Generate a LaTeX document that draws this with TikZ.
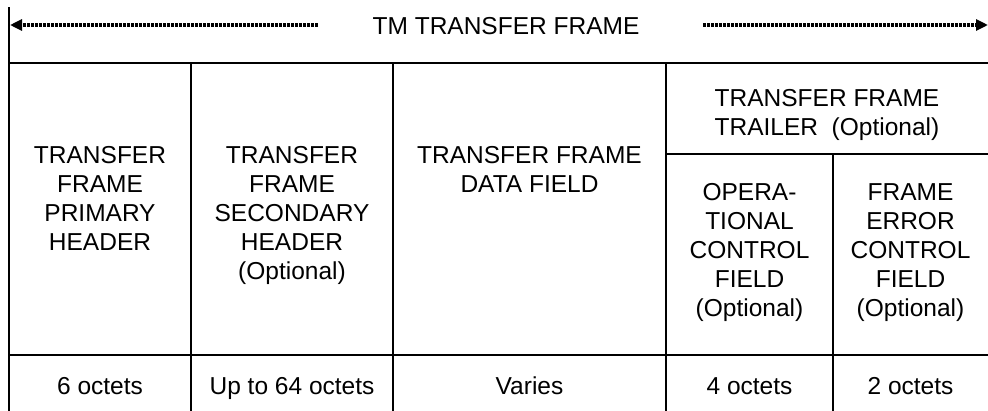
\documentclass[tikz,border=0pt]{standalone}
\usepackage{fontspec}
\setmainfont{Liberation Sans}
\usetikzlibrary{arrows.meta}
\tikzset{
  rule/.style={line width=2pt, line cap=rect},
  dotarrow/.style={line width=3.2pt, dash pattern=on 2.8pt off 1.2pt, -{Triangle[length=12pt,width=11pt]}},
  lbl/.style={anchor=base, align=center, inner sep=0pt, font=\fontsize{24.5}{29}\selectfont},
  top/.style={lbl, anchor=north},
}
\begin{document}
\begin{tikzpicture}[x=1pt,y=-1pt]
\useasboundingbox (0,0) rectangle (988,410);
% frame lines
\coordinate (tl) at (9,8);
\coordinate (h1l) at (9,62.5);
\coordinate (h1r) at (990,62.5);
\coordinate (h2l) at (9,355);
\coordinate (h2r) at (990,355);
\coordinate (v1t) at (191,62.5);   \coordinate (v1b) at (191,412);
\coordinate (v2t) at (393,62.5);   \coordinate (v2b) at (393,412);
\coordinate (v3t) at (666,62.5);   \coordinate (v3b) at (666,412);
\coordinate (v4t) at (833,154);    \coordinate (v4b) at (833,412);
\coordinate (trl) at (666,154);    \coordinate (trr) at (990,154);
\draw[rule] (tl) -- (9,412);
\draw[rule] (h1l) -- (h1r);
\draw[rule] (h2l) -- (h2r);
\draw[rule] (v1t) -- (v1b);
\draw[rule] (v2t) -- (v2b);
\draw[rule] (v3t) -- (v3b);
\draw[rule] (v4t) -- (v4b);
\draw[rule] (trl) -- (trr);
% title and arrows
\node[lbl] (title) at (506,34) {TM TRANSFER FRAME};
\coordinate (al) at (318,25);
\coordinate (alend) at (10,25);
\coordinate (ar) at (703,25);
\coordinate (arend) at (988,25);
\draw[dotarrow] (al) -- (alend);
\draw[dotarrow] (ar) -- (arend);
% headers
\node[top] (ph) at (100,146) {TRANSFER\\FRAME\\PRIMARY\\HEADER};
\node[top] (sh) at (292,146) {TRANSFER\\FRAME\\SECONDARY\\HEADER\\(Optional)};
\node[top] (df) at (529.5,146) {TRANSFER FRAME\\DATA FIELD};
\node[top] (tr) at (827,89) {TRANSFER FRAME\\TRAILER\ \ (Optional)};
\node[top] (oc) at (749.5,183) {OPERA-\\TIONAL\\CONTROL\\FIELD\\(Optional)};
\node[top] (fe) at (910.5,183) {FRAME\\ERROR\\CONTROL\\FIELD\\(Optional)};
% sizes
\node[lbl] (s1) at (100,394) {6 octets};
\node[lbl] (s2) at (292,394) {Up to 64 octets};
\node[lbl] (s3) at (529.5,394) {Varies};
\node[lbl] (s4) at (749.5,394) {4 octets};
\node[lbl] (s5) at (910.5,394) {2 octets};
\end{tikzpicture}
\end{document}
